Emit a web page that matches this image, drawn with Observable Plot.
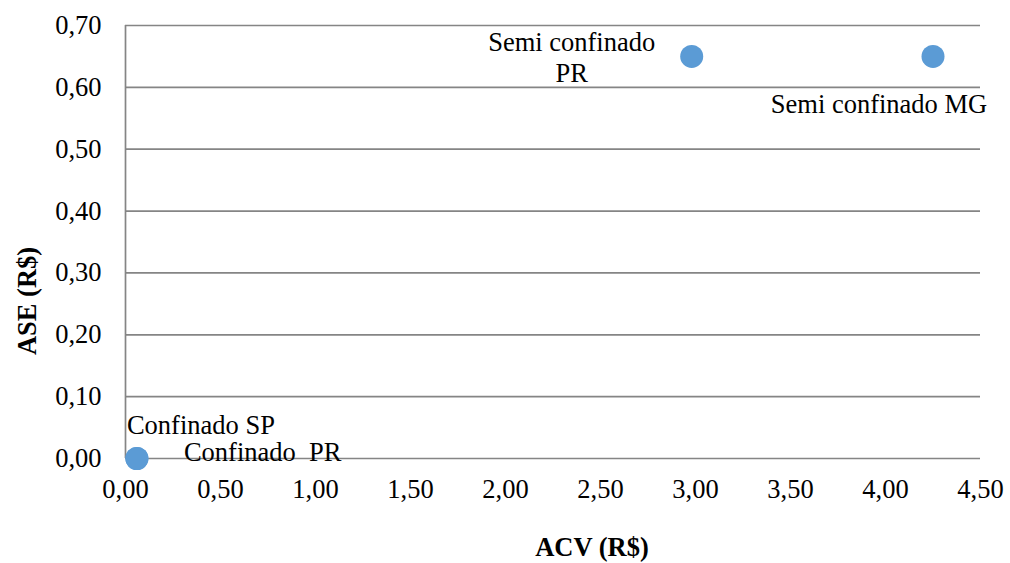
<!DOCTYPE html>
<html>
<head>
<meta charset="utf-8">
<script src="https://cdn.jsdelivr.net/npm/d3@7"></script>
<script src="https://cdn.jsdelivr.net/npm/@observablehq/plot@0.6"></script>
<style>
  html, body { margin: 0; padding: 0; background: #ffffff; }
  #chart svg { display: block; }
  #chart svg, #chart svg text, #chart svg g { font-family: "Liberation Serif", "Times New Roman", serif !important; }
</style>
</head>
<body>
<div id="chart"></div>
<script>
// Data
const names = ["Confinado SP", "Confinado  PR", "Semi confinado\nPR", "Semi confinado MG"];
const acv = [0.06, 0.06, 2.98, 4.25];
const ase = [0.00, 0.00, 0.65, 0.65];
const xTicks = [0, 0.5, 1, 1.5, 2, 2.5, 3, 3.5, 4, 4.5];
const yTicks = [0, 0.1, 0.2, 0.3, 0.4, 0.5, 0.6, 0.7];
const xTitle = "ACV (R$)";
const yTitle = "ASE (R$)";

const points = names.map((n, i) => ({name: n, acv: acv[i], ase: ase[i]}));
const fmt = d => d.toFixed(2).replace(".", ",");
const gridColor = "#858585";
const serif = "Liberation Serif";
const fs = 26.5;

const lab = (i, opts) => Plot.text([points[i]], {
  x: "acv", y: "ase", text: "name", fill: "#000",
  fontSize: fs, fontFamily: serif, ...opts
});

const chart = Plot.plot({
  width: 1010,
  height: 563,
  marginLeft: 125,
  marginRight: 30,
  marginTop: 25,
  marginBottom: 105,
  style: {fontFamily: serif, fontSize: fs + "px", color: "#000", background: "#fff"},
  x: {domain: [0, 4.5]},
  y: {domain: [0, 0.7]},
  marks: [
    Plot.ruleY(yTicks, {stroke: gridColor, strokeWidth: 1.7}),
    Plot.ruleX([0], {stroke: gridColor, strokeWidth: 1.7}),
    Plot.axisX({ticks: xTicks, tickSize: 0, tickPadding: 21, tickFormat: fmt, label: null, fontSize: fs, fontFamily: serif}),
    Plot.axisY({ticks: yTicks, tickSize: 0, tickPadding: 24, tickFormat: fmt, label: null, fontSize: fs, fontFamily: serif}),
    Plot.dot(points, {x: "acv", y: "ase", r: 11.5, fill: "#5b9bd5", stroke: null}),
    lab(0, {textAnchor: "start", dx: -10, dy: -33}),
    lab(1, {textAnchor: "start", dx: 47, dy: -6}),
    lab(2, {textAnchor: "middle", dx: -120, dy: 0, lineHeight: 1.2}),
    lab(3, {textAnchor: "middle", dx: -54, dy: 48}),
    Plot.text([xTitle], {frameAnchor: "bottom", text: d => d, textAnchor: "middle", lineAnchor: "middle", dx: 39, dy: 89, fontWeight: "bold", fontSize: fs, fontFamily: serif, fill: "#000"}),
    Plot.text([yTitle], {frameAnchor: "left", text: d => d, textAnchor: "middle", lineAnchor: "middle", rotate: -90, dx: -98, dy: 59, fontWeight: "bold", fontSize: fs, fontFamily: serif, fill: "#000"})
  ]
});
chart.querySelectorAll("text").forEach(t => t.setAttribute("xml:space", "preserve"));
chart.style.whiteSpace = "pre";
document.getElementById("chart").appendChild(chart);
</script>
</body>
</html>
